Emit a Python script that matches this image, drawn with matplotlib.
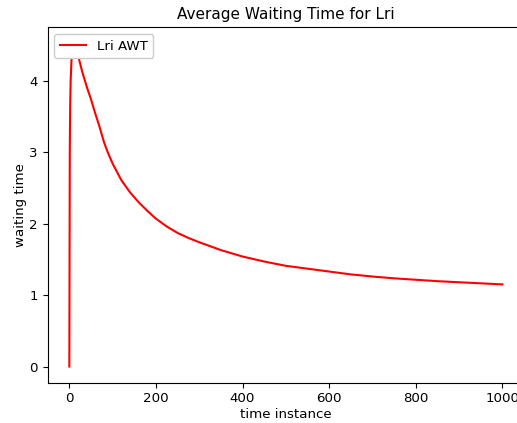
import matplotlib
matplotlib.use("Agg")
import matplotlib.pyplot as plt

# values
time_instance = [0, 1, 2, 3, 5, 8, 12, 16, 22, 30, 40, 50, 60, 70, 80, 90,
                 100, 120, 140, 160, 180, 200, 225, 250, 275, 300, 350, 400,
                 450, 500, 550, 600, 650, 700, 750, 800, 850, 900, 950, 1000]
waiting_time = [0.0, 3.0, 3.7, 4.0, 4.3, 4.46, 4.52, 4.48, 4.31, 4.12, 3.92,
                3.74, 3.54, 3.35, 3.14, 2.98, 2.84, 2.61, 2.44, 2.30, 2.18,
                2.07, 1.96, 1.87, 1.80, 1.74, 1.63, 1.54, 1.47, 1.41, 1.37,
                1.33, 1.29, 1.26, 1.235, 1.215, 1.195, 1.18, 1.165, 1.15]

W, H = 517, 423
fig = plt.figure(figsize=(W / 100, H / 100), dpi=100)
# axes box runs past the right edge, as in the reference (cropped "1000")
ax = fig.add_axes([47.7 / W, (H - 382.7) / H, (524.0 - 47.7) / W, (382.7 - 27.5) / H])
ax.plot(time_instance, waiting_time, color="red", label="Lri AWT")
ax.set_xticks([0, 200, 400, 600, 800, 1000])
ax.set_yticks([0, 1, 2, 3, 4])
ax.tick_params(labelsize=9.6)
ax.set_xlabel("time instance", fontsize=9.6, labelpad=2)
ax.set_ylabel("waiting time", fontsize=9.6, labelpad=2)
ax.set_title("Average Waiting Time for Lri", fontsize=11)
ax.legend(loc="upper left", fontsize=9.6, framealpha=1)

fig.savefig("out.png", dpi=100)
